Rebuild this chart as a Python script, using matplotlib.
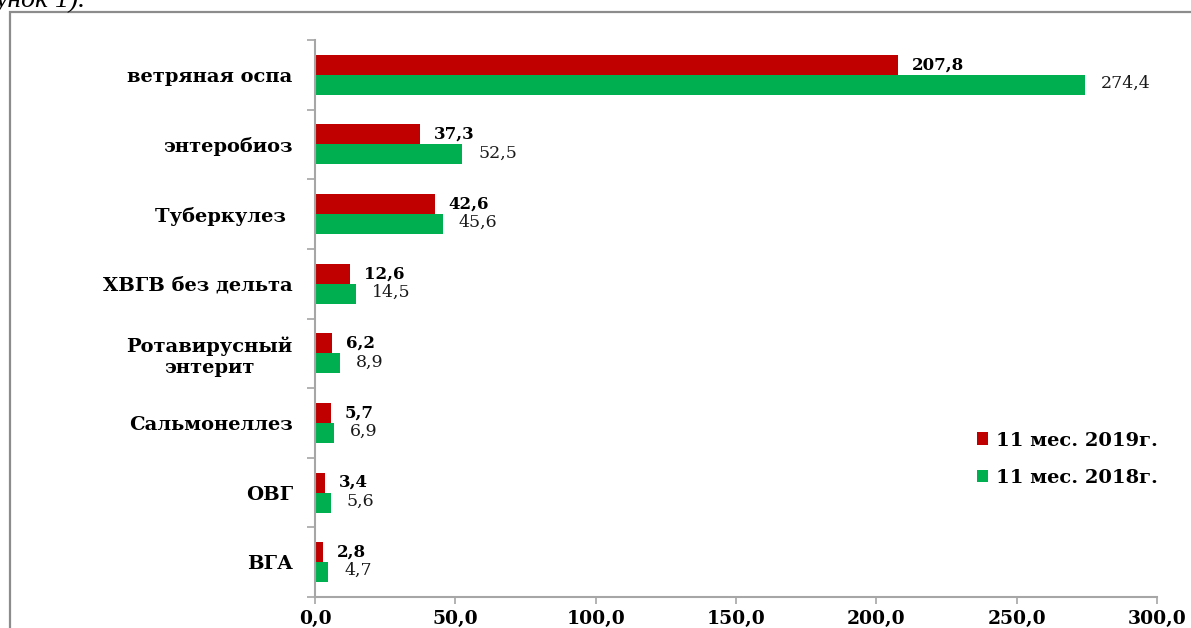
import matplotlib.pyplot as plt
import numpy as np
from matplotlib.patches import Rectangle

categories = ['ветряная оспа', 'энтеробиоз', 'Туберкулез ', 'ХВГВ без дельта',
              'Ротавирусный\nэнтерит', 'Сальмонеллез', 'ОВГ', 'ВГА']
values_2019 = [207.8, 37.3, 42.6, 12.6, 6.2, 5.7, 3.4, 2.8]
values_2018 = [274.4, 52.5, 45.6, 14.5, 8.9, 6.9, 5.6, 4.7]
series_names = ['11 мес. 2019г.', '11 мес. 2018г.']
xticks = [0, 50, 100, 150, 200, 250, 300]

RED = '#C00000'
GREEN = '#00B050'
AXIS = '#A6A6A6'

plt.rcParams['font.family'] = ['DejaVu Serif']

fig = plt.figure(figsize=(11.91, 6.28), dpi=100)
# outer frame of the picture, partly cut off by the page
fig.patches.append(Rectangle((9.5 / 1191, -0.1), 1.2, 1 - 11.5 / 628 + 0.1,
                             transform=fig.transFigure, fill=False,
                             edgecolor='#8C8C8C', linewidth=1.6))
fig.text(-0.004, 1 - 7 / 628, 'унок 1).', fontsize=20, style='italic',
         va='baseline', ha='left', family='Liberation Serif')

ax = fig.add_axes([315 / 1191, 1 - 597 / 628, 842 / 1191, 557 / 628])

n = len(categories)
pos = np.arange(n)
h = 0.288
ax.barh(pos - h / 2, values_2019, height=h, color=RED, label=series_names[0])
ax.barh(pos + h / 2, values_2018, height=h, color=GREEN, label=series_names[1])

for p, v in zip(pos, values_2019):
    ax.annotate(f'{v:.1f}'.replace('.', ','), (v, p - h / 2), xytext=(10, 0),
                textcoords='offset points', va='center', ha='left',
                fontsize=12, fontweight='bold')
for p, v in zip(pos, values_2018):
    ax.annotate(f'{v:.1f}'.replace('.', ','), (v, p + h / 2), xytext=(11.5, 1),
                textcoords='offset points', va='center', ha='left',
                fontsize=12.5, color='#1a1a1a')

ax.set_ylim(n - 0.5, -0.5)
ax.set_xlim(0, 300)
ax.set_yticks(pos)
ax.set_yticklabels(categories, fontsize=14, fontweight='bold', multialignment='center')
ax.set_yticks(np.arange(n + 1) - 0.5, minor=True)
ax.tick_params(axis='y', which='major', length=0, pad=16)
ax.tick_params(axis='y', which='minor', length=6, color=AXIS, width=1.2)
ax.set_xticks(xticks)
ax.set_xticklabels([f'{t:.1f}'.replace('.', ',') for t in xticks],
                   fontsize=13.5, fontweight='bold')
ax.tick_params(axis='x', length=5, color=AXIS, width=1.2, pad=4)

for s in ['top', 'right']:
    ax.spines[s].set_visible(False)
for s in ['left', 'bottom']:
    ax.spines[s].set_color(AXIS)
    ax.spines[s].set_linewidth(1.5)

ax.legend(loc='upper left', bbox_to_anchor=(644 / 842, 183 / 557), frameon=False,
          prop={'weight': 'bold', 'size': 14}, handlelength=0.6, handleheight=0.6,
          handletextpad=0.4, labelspacing=1.0)

fig.savefig('out.png', dpi=100)
